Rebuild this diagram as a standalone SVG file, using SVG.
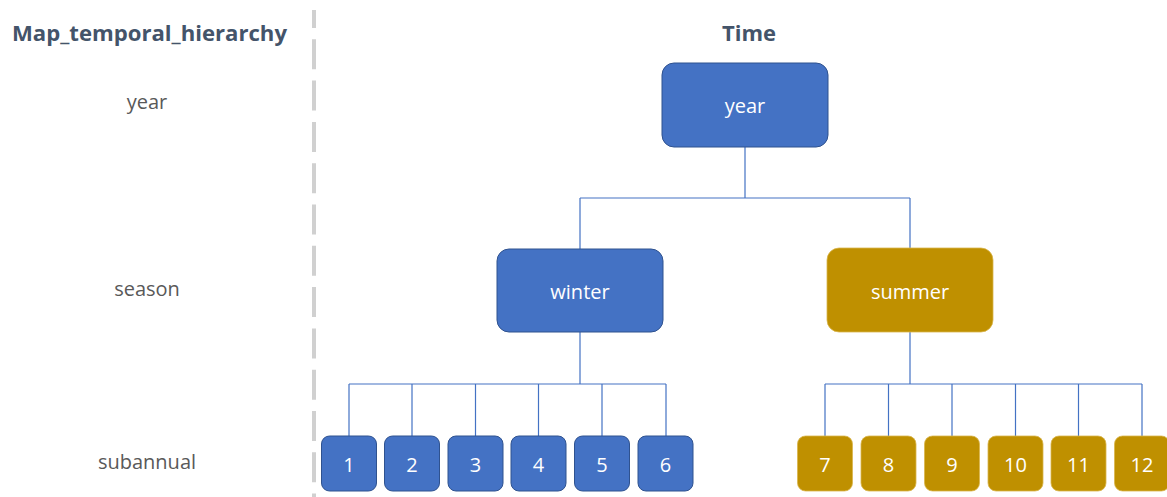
<svg xmlns="http://www.w3.org/2000/svg" width="1167" height="497" viewBox="0 0 1167 497">
<style>
.hdr{font-family:"Open Sans","Liberation Sans",sans-serif;font-weight:bold;font-size:22px;fill:#44546a}
.lvl{font-family:"Open Sans","Liberation Sans",sans-serif;font-size:20px;fill:#595959;text-anchor:middle}
.lbl{font-family:"Open Sans","Liberation Sans",sans-serif;font-size:20px;fill:#ffffff;text-anchor:middle;dominant-baseline:central}
.blue{fill:#4472c4;stroke:#2f528f;stroke-width:1}
.gold{fill:#bf9000;stroke:#d9b54d;stroke-width:0.8}
.conn{stroke:#4472c4;stroke-width:1.2;fill:none}
</style>
<rect width="1167" height="497" fill="#ffffff"/>
<line x1="314" y1="10" x2="314" y2="497" stroke="#d0d0d0" stroke-width="4" stroke-dasharray="30 11.3" stroke-dashoffset="12"/>
<text class="hdr" x="12" y="41" textLength="275" lengthAdjust="spacingAndGlyphs">Map_temporal_hierarchy</text>
<text class="hdr" x="749" y="41" text-anchor="middle">Time</text>
<text class="lvl" x="147" y="109">year</text>
<text class="lvl" x="147" y="296">season</text>
<text class="lvl" x="147" y="469">subannual</text>
<g id="connectors">
<path class="conn" d="M745 147V198M580 198H910M580 198V249M910 198V248"/>
<path class="conn" d="M580 332V384M349 384H666M349 384V436M412 384V436M475.5 384V436M538.5 384V436M602 384V436M666 384V436"/>
<path class="conn" d="M910 332V384M825 384H1142M825 384V436M888.5 384V436M952 384V436M1015.5 384V436M1078.5 384V436M1142 384V436"/>
</g>
<g id="n-year"><rect class="blue" x="662" y="63" width="166" height="84" rx="12"/><text class="lbl" x="745" y="105">year</text></g>
<g id="n-winter"><rect class="blue" x="497" y="249" width="166" height="83" rx="12"/><text class="lbl" x="580" y="291">winter</text></g>
<g id="n-summer"><rect class="gold" x="827" y="248" width="166" height="84" rx="12"/><text class="lbl" x="910" y="291">summer</text></g>
<g id="n-1"><rect class="blue" x="321.5" y="436" width="55" height="55" rx="8"/><text class="lbl" x="349" y="464">1</text></g>
<g id="n-2"><rect class="blue" x="384.5" y="436" width="55" height="55" rx="8"/><text class="lbl" x="412" y="464">2</text></g>
<g id="n-3"><rect class="blue" x="448" y="436" width="55" height="55" rx="8"/><text class="lbl" x="475.5" y="464">3</text></g>
<g id="n-4"><rect class="blue" x="511" y="436" width="55" height="55" rx="8"/><text class="lbl" x="538.5" y="464">4</text></g>
<g id="n-5"><rect class="blue" x="574.5" y="436" width="55" height="55" rx="8"/><text class="lbl" x="602" y="464">5</text></g>
<g id="n-6"><rect class="blue" x="638" y="436" width="55" height="55" rx="8"/><text class="lbl" x="665.5" y="464">6</text></g>
<g id="n-7"><rect class="gold" x="797.5" y="436" width="55" height="55" rx="8"/><text class="lbl" x="825" y="464">7</text></g>
<g id="n-8"><rect class="gold" x="861" y="436" width="55" height="55" rx="8"/><text class="lbl" x="888.5" y="464">8</text></g>
<g id="n-9"><rect class="gold" x="924.5" y="436" width="55" height="55" rx="8"/><text class="lbl" x="952" y="464">9</text></g>
<g id="n-10"><rect class="gold" x="988" y="436" width="55" height="55" rx="8"/><text class="lbl" x="1015.5" y="464">10</text></g>
<g id="n-11"><rect class="gold" x="1051" y="436" width="55" height="55" rx="8"/><text class="lbl" x="1078.5" y="464">11</text></g>
<g id="n-12"><rect class="gold" x="1114.5" y="436" width="55" height="55" rx="8"/><text class="lbl" x="1142" y="464">12</text></g>
</svg>
